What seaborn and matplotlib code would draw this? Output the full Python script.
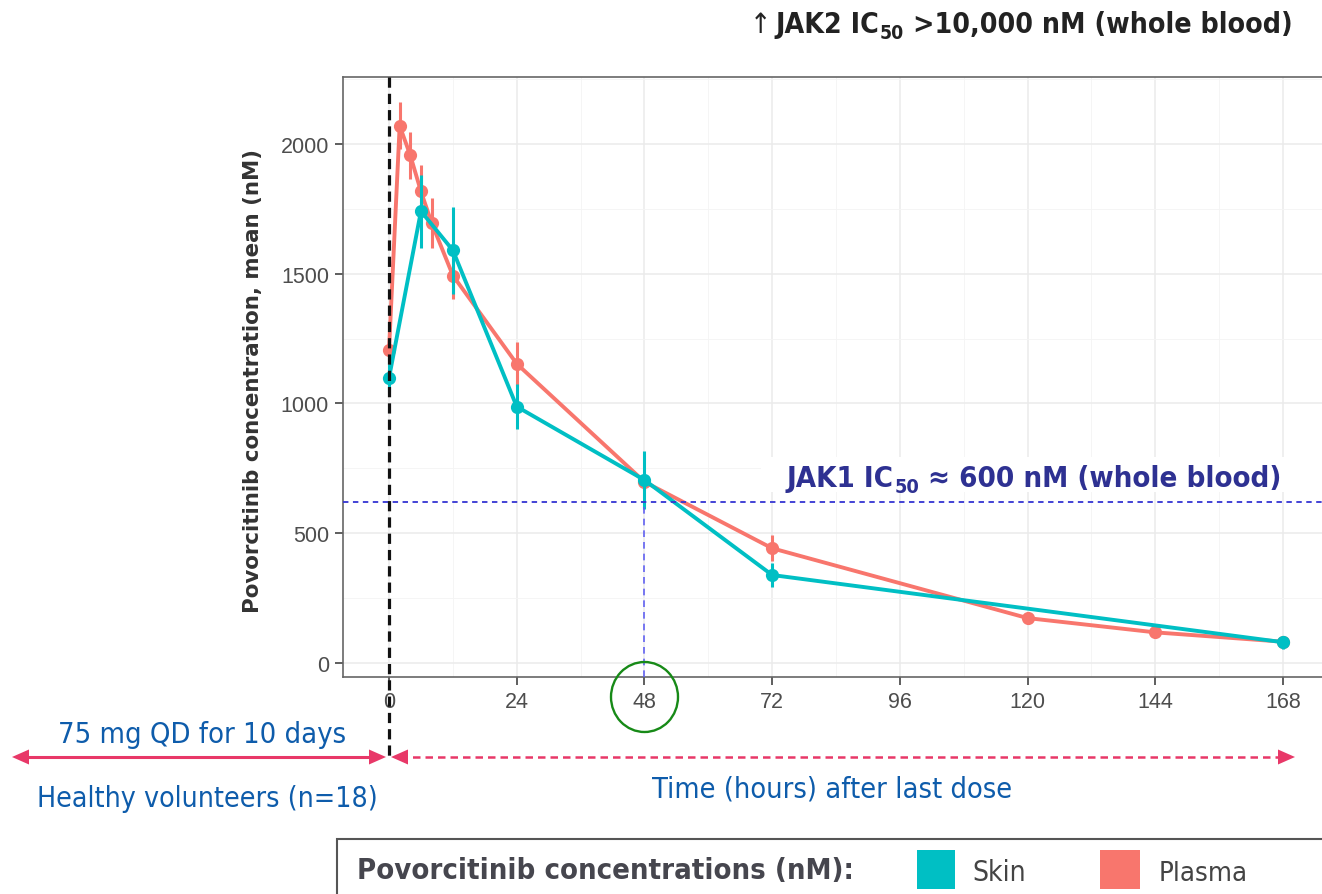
import os
import glob
import numpy as np
import pandas as pd
import matplotlib
matplotlib.use("Agg")
import matplotlib.pyplot as plt
import matplotlib.transforms as mtrans
from matplotlib.patches import Rectangle, Ellipse, Polygon
from matplotlib.lines import Line2D
from matplotlib.font_manager import FontProperties, fontManager
import seaborn as sns

# ---------------- data ----------------
plasma_time = [0, 2, 4, 6, 8, 12, 24, 48, 72, 120, 144, 168]
plasma_mean = [1207, 2070, 1956, 1817, 1696, 1493, 1153, 698, 442, 173, 118, 82]
plasma_sd = [40, 90, 90, 100, 95, 90, 85, 30, 50, 20, 15, 10]

skin_time = [0, 6, 12, 24, 48, 72, 168]
skin_mean = [1099, 1741, 1590, 988, 705, 339, 80]
skin_sd = [55, 140, 168, 88, 110, 45, 25]

x_ticks = [0, 24, 48, 72, 96, 120, 144, 168]
y_ticks = [0, 500, 1000, 1500, 2000]
jak1_ic50 = 620

series_names = ["Skin", "Plasma"]
TEAL = "#00BFC4"
RED = "#F8766D"

# ---------------- fonts ----------------
def find_font(fn):
    for f in fontManager.ttflist:
        if os.path.basename(f.fname) == fn:
            return f.fname
    hits = glob.glob("/usr/share/fonts/**/" + fn, recursive=True)
    return hits[0] if hits else None


COND_R = find_font("DejaVuSansCondensed.ttf")
COND_B = find_font("DejaVuSansCondensed-Bold.ttf")


def tfont(bold):
    path = COND_B if bold else COND_R
    if path:
        return FontProperties(fname=path)
    return FontProperties(family="Noto Sans", weight="bold" if bold else "normal")


# ---------------- figure ----------------
W, H = 1322, 895
sns.set_theme(style="white")
plt.rcParams["font.family"] = ["DejaVu Sans"]

fig = plt.figure(figsize=(W / 100, H / 100), dpi=100)


def fx(px):
    return px / W


def fy(py):
    return 1 - py / H


ax = fig.add_axes([fx(343), fy(678), (1329 - 343) / W, (678 - 78) / H])

plasma_df = pd.DataFrame({"time": plasma_time, "conc": plasma_mean, "sd": plasma_sd})
skin_df = pd.DataFrame({"time": skin_time, "conc": skin_mean, "sd": skin_sd})

for df, col in [(plasma_df, RED), (skin_df, TEAL)]:
    sns.lineplot(data=df, x="time", y="conc", color=col, marker="o", markersize=9.5,
                 markeredgewidth=0, linewidth=2.8, errorbar=None, legend=False, ax=ax)
    ax.errorbar(df["time"], df["conc"], yerr=df["sd"], fmt="none", ecolor=col,
                elinewidth=2.2, capsize=0)

ax.set_xlim(-8.65, 176.65)
ax.set_ylim(-54, 2258)
ax.set_xticks(x_ticks)
ax.set_xticks(list(range(12, 169, 24)), minor=True)
ax.set_yticks(y_ticks)
ax.set_yticks([250, 750, 1250, 1750, 2250], minor=True)
ax.set_xticklabels([str(v) for v in x_ticks])
ax.set_yticklabels([str(v) for v in y_ticks])
ax.set_axisbelow(True)
ax.grid(which="major", color="#EBEBEB", lw=1.1)
ax.grid(which="minor", color="#F4F4F4", lw=0.6)
ax.tick_params(which="minor", length=0)
ax.tick_params(which="major", bottom=True, left=True, length=5.5, width=1.1,
               color="#333333", labelsize=15.5, labelcolor="#4D4D4D", pad=4.5,
               labelfontfamily="Liberation Sans")
for sp in ax.spines.values():
    sp.set_color("#666666")
    sp.set_linewidth(1.2)
ax.set_xlabel("")
ax.set_ylabel("Povorcitinib concentration, mean (nM)", fontweight="bold",
              color="#333333", fontsize=13)
ax.yaxis.label.set_verticalalignment("center")
ax.yaxis.set_label_coords((253 - 343) / 986, (678 - 381) / 600)

# threshold lines
ax.axhline(jak1_ic50, color="#3434D2", lw=1.3, dashes=(3, 2.5), zorder=3)
ax.vlines(48, -54, jak1_ic50, color="#6262F2", lw=1.2, linestyles=(0, (4, 3)), zorder=3)

# white box behind the JAK1 label
ax.add_patch(Rectangle((fx(761), fy(493)), (1330 - 761) / W, 35 / H,
                       transform=fig.transFigure, facecolor="white", edgecolor="none", zorder=1))

# dashed black line at t=0 extending below axis
blend = mtrans.blended_transform_factory(ax.transData, fig.transFigure)
fig.add_artist(Line2D([0, 0], [fy(78), fy(760)], transform=blend, color="#111111",
                      lw=2.3, dashes=(3.2, 1.9), zorder=5))

# green circle around 48
fig.add_artist(Ellipse((fx(644.5), fy(698)), 67 / W, 70 / H, transform=fig.transFigure,
                       fill=False, edgecolor="#178A17", lw=1.7, zorder=5))

# arrows
PINK = "#E83868"
ay = 758


def head(tip, base):
    fig.add_artist(Polygon([(fx(tip), fy(ay)), (fx(base), fy(ay - 7.5)), (fx(base), fy(ay + 7.5))],
                           closed=True, transform=fig.transFigure, facecolor=PINK,
                           edgecolor="none", zorder=6))


fig.add_artist(Line2D([fx(20), fx(378)], [fy(ay), fy(ay)], transform=fig.transFigure,
                      color=PINK, lw=2.2, solid_capstyle="butt"))
head(12, 29)
head(386, 369)
fig.add_artist(Line2D([fx(400), fx(1286)], [fy(ay), fy(ay)], transform=fig.transFigure,
                      color=PINK, lw=1.8, dashes=(3, 2)))
head(391, 408)
head(1295, 1278)

# legend box
fig.add_artist(Rectangle((fx(337), fy(905)), (1345 - 337) / W, 65 / H, transform=fig.transFigure,
                         facecolor="white", edgecolor="#555555", lw=1.5, clip_on=False))
for (x0, x1), col in [((917, 955), TEAL), ((1100, 1140), RED)]:
    fig.add_artist(Rectangle((fx(x0), fy(890)), (x1 - x0) / W, 39 / H,
                             transform=fig.transFigure, facecolor=col, edgecolor="none"))

# ---------------- text helpers ----------------
renderer = fig.canvas.get_renderer()
PX = 100 / 72


def measure(s, fp, size):
    t = fig.text(0, 0, s, fontproperties=fp)
    t.set_fontsize(size)
    w = t.get_window_extent(renderer).width
    t.remove()
    return w


def runs(x, y, parts, bold, color, target_w, ha="left"):
    """parts: list of (string, is_subscript, space_before)"""
    fp = tfont(bold)
    SUB, DROP = 0.68, 0.22

    def widths(size):
        out = []
        for s, sub, sp in parts:
            sz = size * SUB if sub else size
            gap = 0.32 * size * PX if sp else (1.0 if sub else 0.0)
            out.append((measure(s, fp, sz), gap))
        return out, sum(w + g for w, g in out)

    ws, total = widths(20)
    size = 20 * target_w / total
    ws, total = widths(size)
    cur = x if ha == "left" else x - total / 2
    for (s, sub, sp), (w, g) in zip(parts, ws):
        cur += g
        sz = size * SUB if sub else size
        yy = y + (DROP * size * PX if sub else 0)
        t = fig.text(fx(cur), fy(yy), s, fontproperties=fp, color=color,
                     ha="left", va="baseline", zorder=7)
        t.set_fontsize(sz)
        cur += w
    return size


title_size = runs(775, 33, [("JAK2 IC", False, 0), ("50", True, 0),
                            (">10,000 nM (whole blood)", False, 1)],
                  True, "#222222", 518)
arr = fig.text(fx(750), fy(33), "\u2191", fontproperties=tfont(False), color="#222222",
               ha="left", va="baseline")
arr.set_fontsize(title_size)

runs(1034, 487, [("JAK1 IC", False, 0), ("50", True, 0),
                 ("\u2248 600 nM (whole blood)", False, 1)],
     True, "#2E3192", 496, ha="center")

BLUE = "#0E5CAB"
runs(202, 743, [("75 mg QD for 10 days", False, 0)], False, BLUE, 288, ha="center")
runs(207, 807, [("Healthy volunteers (n=18)", False, 0)], False, BLUE, 340, ha="center")
runs(832, 798, [("Time (hours) after last dose", False, 0)], False, BLUE, 359, ha="center")

runs(357, 879, [("Povorcitinib concentrations (nM):", False, 0)], True, "#46464E", 497)
runs(972, 881, [(series_names[0], False, 0)], False, "#444444", 54)
runs(1159, 881, [(series_names[1], False, 0)], False, "#444444", 89)

ylab = ax.yaxis.label
bb = ylab.get_window_extent(renderer)
ylab.set_fontsize(ylab.get_fontsize() * 462 / bb.height)

fig.savefig("out.png", dpi=100)
